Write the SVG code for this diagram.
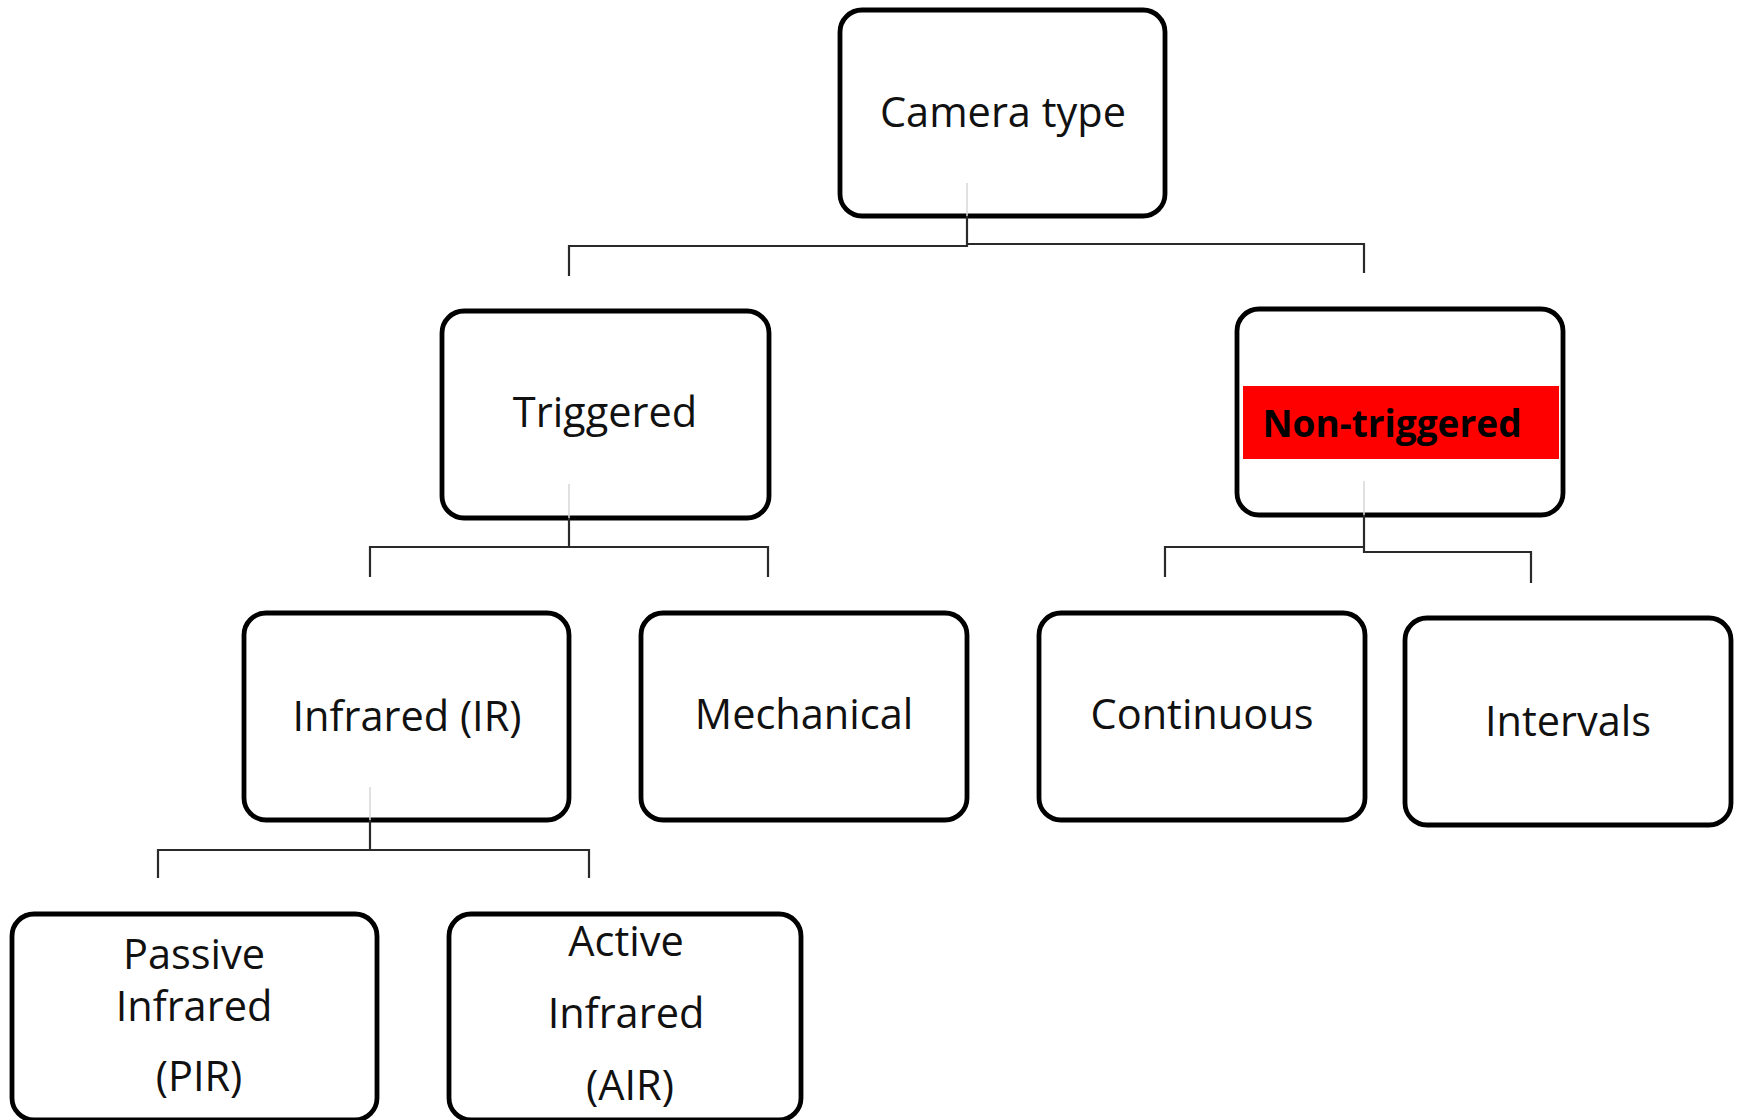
<svg xmlns="http://www.w3.org/2000/svg" width="1737" height="1120" viewBox="0 0 1737 1120">
<style>
.box{fill:#fff;stroke:#000;stroke-width:4.8}
.t{font-family:"Open Sans","Liberation Sans",sans-serif;font-size:41.5px;fill:#111;text-anchor:middle}
.b{font-weight:bold;fill:#000;font-size:37px}
.c{fill:none;stroke:#2a2a2a;stroke-width:2.2}
.f{fill:none;stroke:#d8d8d8;stroke-width:1.5}
</style>
<rect width="1737" height="1120" fill="#fff"/>
<g id="n-camera"><rect class="box" x="840" y="10" width="325" height="206" rx="22"/><text class="t" x="1003" y="127">Camera type</text></g>
<g id="n-triggered"><rect class="box" x="442" y="311" width="327" height="207" rx="22"/><text class="t" x="605" y="427">Triggered</text></g>
<g id="n-nontriggered"><rect class="box" x="1237" y="309" width="326" height="206" rx="22"/><rect x="1243" y="386" width="316" height="73" fill="#ff0000"/><text class="t b" x="1392" y="437">Non-triggered</text></g>
<g id="n-ir"><rect class="box" x="244" y="613" width="325" height="207" rx="22"/><text class="t" x="407" y="731">Infrared (IR)</text></g>
<g id="n-mech"><rect class="box" x="641" y="613" width="326" height="207" rx="22"/><text class="t" x="804" y="729">Mechanical</text></g>
<g id="n-cont"><rect class="box" x="1039" y="613" width="326" height="207" rx="22"/><text class="t" x="1202" y="729">Continuous</text></g>
<g id="n-int"><rect class="box" x="1405" y="618" width="326" height="207" rx="22"/><text class="t" x="1568" y="736">Intervals</text></g>
<g id="n-pir"><rect class="box" x="12" y="914" width="365" height="206" rx="22"/><text class="t" x="194" y="969">Passive</text><text class="t" x="194" y="1021">Infrared</text><text class="t" x="199" y="1091">(PIR)</text></g>
<g id="n-air"><rect class="box" x="449" y="914" width="352" height="206" rx="22"/><text class="t" x="626" y="956">Active</text><text class="t" x="626" y="1028">Infrared</text><text class="t" x="630" y="1100">(AIR)</text></g>
<g id="connectors">
<path class="f" d="M967 183V216M569 484V518M1364 481V515M370 787V820"/>
<path class="c" d="M967 216V246H569V276M967 244H1364V273"/>
<path class="c" d="M569 518V547H370V577M569 547H768V577"/>
<path class="c" d="M1364 515V547H1165V577M1364 515V552H1531V583"/>
<path class="c" d="M370 820V850H158V878M370 850H589V878"/>
</g>
</svg>
